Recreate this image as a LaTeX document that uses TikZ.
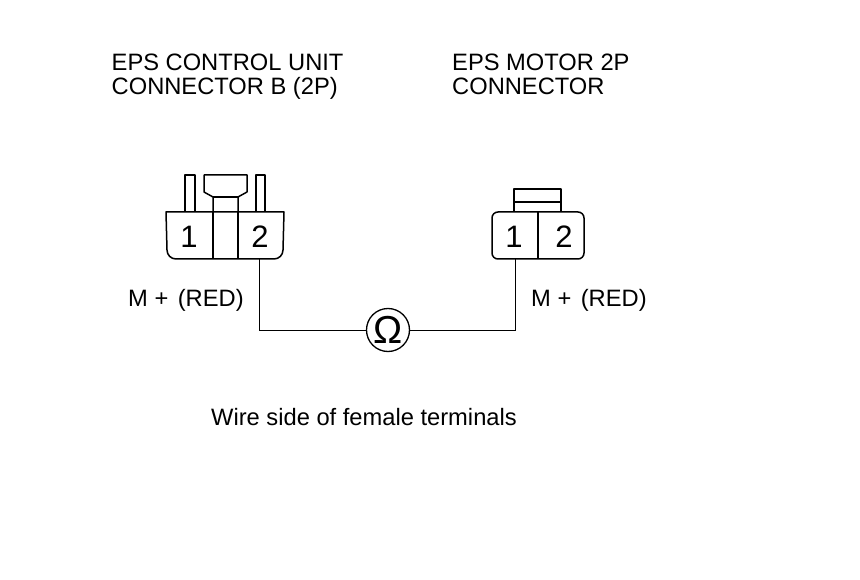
\documentclass[tikz,border=0pt]{standalone}
\usepackage{fontspec}
\setmainfont{Liberation Sans}
\tikzset{
  label text/.style={inner sep=0pt, anchor=base west, align=left, font=\fontsize{23.7}{24.5}\selectfont},
  pin text/.style={inner sep=0pt, anchor=base, font=\fontsize{31}{31}\selectfont},
  housing/.style={line width=1.5pt, line join=round},
  wire/.style={line width=0.9pt}
}
\begin{document}
\begin{tikzpicture}[x=1pt,y=-1pt]
    \useasboundingbox (0,0) rectangle (860,580);
    % control unit connector
    \coordinate (Ltl) at (166,212);
    \coordinate (Ltr) at (284,212);
    \coordinate (Lpin) at (259,259);
    \draw[housing] (Ltl) -- (Ltr) -- (283,250) arc[start angle=0,end angle=90,radius=9] -- (176,259)
      arc[start angle=90,end angle=180,radius=9] -- cycle;
    \draw[housing] (213,212) -- (213,259);
    \draw[housing] (238,212) -- (238,259);
    \draw[housing] (185,212) -- (185,175) -- (195,175) -- (195,212);
    \draw[housing] (256,212) -- (256,175) -- (265,175) -- (265,212);
    \draw[housing] (213,212) -- (213,197) -- (204,192) -- (204,175) -- (247,175) -- (247,192) -- (238,197) -- (238,212);
    \draw[housing] (213,197) -- (238,197);
    \node[pin text] (L1) at (189,248) {1};
    \node[pin text] (L2) at (260,248) {2};
    % motor connector
    \coordinate (Rpin) at (515,259);
    \draw[housing, rounded corners=6pt] (492,212) rectangle (584,259);
    \draw[housing] (538,212) -- (538,259);
    \draw[housing] (514,212) -- (514,189) -- (561,189) -- (561,212);
    \draw[housing] (514,202) -- (561,202);
    \node[pin text] (R1) at (514,248) {1};
    \node[pin text] (R2) at (564,248) {2};
    % meter and wires
    \node[draw, circle, line width=1.3pt, minimum size=43pt, inner sep=0pt,
      font=\fontsize{39}{39}\selectfont] (meter) at (388,330) {Ω};
    \draw[wire] (Lpin) |- (meter);
    \draw[wire] (Rpin) |- (meter);
    % labels
    \node[label text] (Ltitle) at (111.5,95) {EPS CONTROL UNIT\\CONNECTOR B (2P)};
    \node[label text] (Rtitle) at (452,95) {EPS MOTOR 2P\\CONNECTOR};
    \node[label text] (Lwire) at (128,306) {M +\hspace{9.5pt}(RED)};
    \node[label text] (Rwire) at (531,306) {M +\hspace{9.5pt}(RED)};
    \node[label text] (note) at (211,425) {Wire side of female terminals};
\end{tikzpicture}
\end{document}
